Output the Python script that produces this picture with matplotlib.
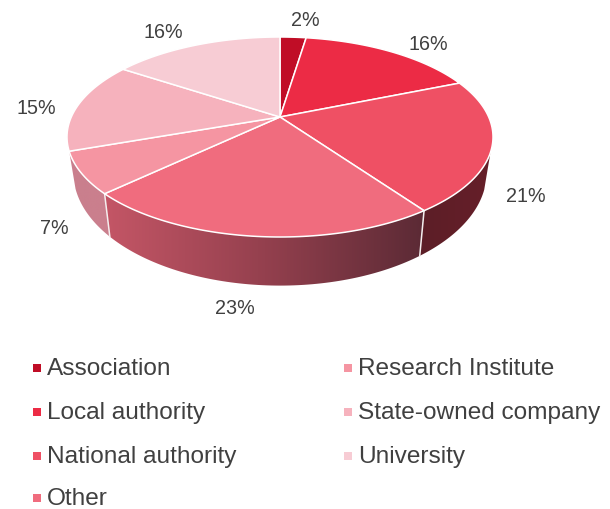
import numpy as np
import matplotlib
matplotlib.use('Agg')
import matplotlib.pyplot as plt
from matplotlib.colors import LinearSegmentedColormap
from matplotlib.patches import Polygon

plt.rcParams['font.family'] = ['Liberation Sans', 'DejaVu Sans']

# Data
categories = ['Association', 'Local authority', 'National authority', 'Other',
              'Research Institute', 'State-owned company', 'University']
values = [2.4, 16.4, 21.4, 22.7, 6.7, 14.7, 15.7]
colors = ['#c00d26', '#ec2b45', '#ef5064', '#f06c7e', '#f595a2', '#f6b2bd', '#f7ccd4']
wall_colors = {
    'National authority': ['#5c1e27', '#661f29'],
    'Other': ['#c45666', '#94404e', '#5b2a35'],
    'Research Institute': ['#c97f8d', '#cb7f8d'],
}

# Where things sit, in pixels
hub_x, hub_y = 280, 118
persp_a, persp_b, persp_k = 208.7, 96, 0.2
label_pos = [(305, 21), (428, 44), (526, 197), (235, 309), (54, 229), (36, 109), (163, 32)]
legend_x = [37, 348]
legend_y = [369, 413, 457, 499]
wall_from, wall_to = 110, 250.5

def rim(theta):
    # degrees clockwise from the top, circle seen in perspective
    t = np.radians(theta)
    den = 1 + persp_k * np.cos(t)
    return persp_a * np.sin(t) / den, persp_b * np.cos(t) / den

def top_points(theta):
    sx, sy = rim(theta)
    return hub_x + sx, hub_y - sy

def bottom_points(theta):
    sx, sy = rim(theta)
    return hub_x + 0.97 * sx, hub_y - sy + 33 - 0.13 * sy

fig = plt.figure(figsize=(6.1, 5.1), dpi=100)
ax = fig.add_axes([0, 0, 1, 1])

edges = np.cumsum([0] + values) * 3.6

# side walls first
for name, a0, a1 in zip(categories, edges[:-1], edges[1:]):
    lo, hi = max(a0, wall_from), min(a1, wall_to)
    if lo >= hi or name not in wall_colors:
        continue
    th = np.linspace(lo, hi, 80)
    xt, yt = top_points(th)
    xb, yb = bottom_points(th)
    pts = np.column_stack([np.r_[xt, xb[::-1]], np.r_[yt, yb[::-1]]])
    wall = Polygon(pts, closed=True, facecolor='none', edgecolor='none', transform=ax.transData)
    ax.add_patch(wall)
    # gradient runs left to right on screen
    cmap = LinearSegmentedColormap.from_list(name, wall_colors[name])
    grad = np.linspace(0, 1, 256).reshape(1, -1)
    im = ax.imshow(grad, cmap=cmap, aspect='auto', zorder=2,
                   extent=(pts[:, 0].min(), pts[:, 0].max(), pts[:, 1].max(), pts[:, 1].min()))
    im.set_clip_path(wall)
    # white seam at the end of the slice
    if lo == a0:
        ax.plot([top_points(lo)[0], bottom_points(lo)[0]],
                [top_points(lo)[1], bottom_points(lo)[1]],
                color='#f4eeee', lw=1.1, zorder=3)

# top of the pie
for a0, a1, col in zip(edges[:-1], edges[1:], colors):
    th = np.linspace(a0, a1, 80)
    xt, yt = top_points(th)
    pts = np.column_stack([np.r_[hub_x, xt], np.r_[hub_y, yt]])
    ax.add_patch(Polygon(pts, closed=True, facecolor=col, edgecolor='white', lw=1.1,
                         joinstyle='round', zorder=4))

# percentage labels
for v, (x, y) in zip(values, label_pos):
    ax.text(x, y, f'{v:.0f}%', fontsize=14.2, color='#404040', ha='center', va='center', zorder=5)

# legend, filled column by column
for i, (name, col) in enumerate(zip(categories, colors)):
    c = 0 if i < 4 else 1
    y = legend_y[i if i < 4 else i - 4]
    ax.scatter([legend_x[c]], [y], marker='s', s=30, color=col, linewidths=0, zorder=5)
    ax.text(legend_x[c] + 10, y, name, fontsize=17.6, color='#404040', ha='left', va='center', zorder=5)

ax.set_xlim(0, 610)
ax.set_ylim(510, 0)
ax.axis('off')
fig.savefig('out.png', dpi=100, facecolor='white')
